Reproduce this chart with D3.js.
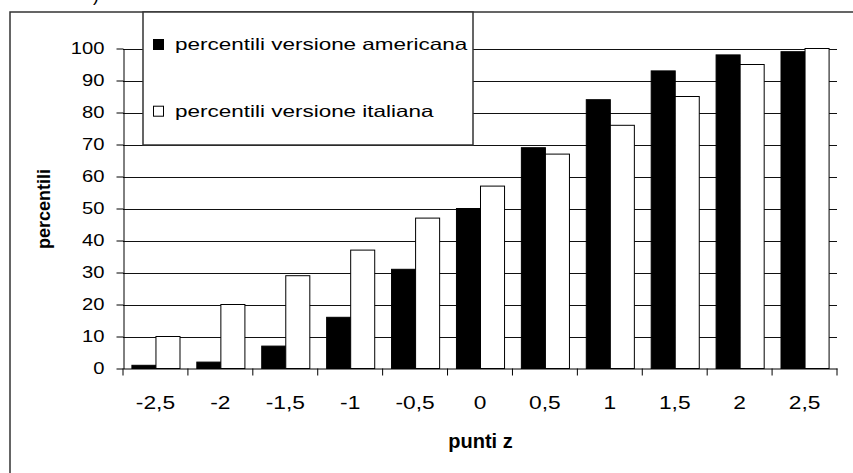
<!DOCTYPE html>
<html>
<head>
<meta charset="utf-8">
<script src="https://cdn.jsdelivr.net/npm/d3@7"></script>
<style>
  html, body { margin: 0; padding: 0; background: #fff; }
  svg { display: block; }
  text { font-family: "Liberation Sans", Arial, sans-serif; fill: #000; }
</style>
</head>
<body>
<svg id="chart" width="853" height="473"></svg>
<script>
// ---- data ----
const categories = ["-2,5", "-2", "-1,5", "-1", "-0,5", "0", "0,5", "1", "1,5", "2", "2,5"];
const americana = [1, 2, 7, 16, 31, 50, 69, 84, 93, 98, 99];
const italiana = [10, 20, 29, 37, 47, 57, 67, 76, 85, 95, 100];
const seriesNames = ["percentili versione americana", "percentili versione italiana"];
const yTicks = [0, 10, 20, 30, 40, 50, 60, 70, 80, 90, 100];
const yTitle = "percentili";
const xTitle = "punti z";

const svg = d3.select("#chart");

// horizontal text stretch helper (reference glyphs are rendered wide)
function stretch(sel, sx) {
  sel.each(function () {
    const t = d3.select(this);
    const x = +t.attr("x") || 0;
    t.attr("x", x / sx).attr("transform", `scale(${sx},1)`);
  });
}

// outer frame (extends beyond the picture on right and bottom)
svg.append("rect")
  .attr("x", 10).attr("y", 12).attr("width", 900).attr("height", 500)
  .attr("fill", "none").attr("stroke", "#333").attr("stroke-width", 1.5);

// cut-off fragment at top
svg.append("text").attr("x", 93).attr("y", 1).attr("font-size", 18).attr("fill", "#333").text(")");

const left = 123, right = 837;
const x0 = d3.scaleBand().domain(categories).range([left, right]).paddingInner(0).paddingOuter(0);
const x1 = d3.scaleBand().domain(["am", "it"]).range([0, x0.bandwidth()]).paddingInner(0).paddingOuter(0.35);
const y = d3.scaleLinear().domain([0, 100]).range([368.5, 48.5]);

// gridlines
svg.append("g").selectAll("line").data(yTicks.filter(d => d > 0)).join("line")
  .attr("x1", left).attr("x2", right)
  .attr("y1", d => Math.round(y(d)) + 0.5).attr("y2", d => Math.round(y(d)) + 0.5)
  .attr("stroke", "#111").attr("stroke-width", 1);

// bars
const rows = categories.map((c, i) => ({ c, am: americana[i], it: italiana[i] }));
const gBars = svg.append("g");
const groups = gBars.selectAll("g").data(rows).join("g")
  .attr("transform", d => `translate(${x0(d.c)},0)`);
groups.append("rect")
  .attr("x", x1("am") + 0.5).attr("width", x1.bandwidth())
  .attr("y", d => y(d.am)).attr("height", d => y(0) - y(d.am))
  .attr("fill", "#000").attr("stroke", "#000").attr("stroke-width", 1);
groups.append("rect")
  .attr("x", x1("it") + 0.5).attr("width", x1.bandwidth())
  .attr("y", d => y(d.it)).attr("height", d => y(0) - y(d.it))
  .attr("fill", "#fff").attr("stroke", "#000").attr("stroke-width", 1);

// y axis
const gy = svg.append("g").attr("transform", `translate(${left + 0.5},0)`)
  .call(d3.axisLeft(y).tickValues(yTicks).tickSize(7).tickSizeOuter(0).tickPadding(12));
gy.selectAll("text").attr("font-size", 16.3).attr("font-family", "Liberation Sans, Arial, sans-serif").attr("fill", "#000");
stretch(gy.selectAll("text"), 1.24);
gy.selectAll("line, path").attr("stroke", "#000");

// x axis
const gx = svg.append("g").attr("transform", `translate(0,${y(0)})`)
  .call(d3.axisBottom(x0).tickSizeInner(7).tickSizeOuter(0).tickPadding(20));
gx.selectAll(".tick line").attr("x1", -x0.bandwidth() / 2).attr("x2", -x0.bandwidth() / 2);
gx.append("line").attr("x1", right).attr("x2", right).attr("y1", 0).attr("y2", 7).attr("stroke", "#000");
gx.selectAll("text").attr("font-size", 18.5).attr("font-family", "Liberation Sans, Arial, sans-serif").attr("fill", "#000");
stretch(gx.selectAll("text"), 1.23);
gx.selectAll("line, path").attr("stroke", "#000");

// axis titles
svg.append("text")
  .attr("transform", `translate(50,209) rotate(-90)`)
  .attr("text-anchor", "middle").attr("font-weight", "bold").attr("font-size", 18)
  .text(yTitle);
svg.append("text")
  .attr("x", 480.5).attr("y", 447.5)
  .attr("text-anchor", "middle").attr("font-weight", "bold").attr("font-size", 20)
  .text(xTitle);

// legend
const lg = svg.append("g");
lg.append("rect").attr("x", 143).attr("y", 12).attr("width", 330).attr("height", 133)
  .attr("fill", "#fff").attr("stroke", "#333").attr("stroke-width", 1.5);
const legendFills = ["#000", "#fff"];
const legendY = [50, 116.7];
seriesNames.forEach((name, i) => {
  lg.append("rect").attr("x", 153.5).attr("y", legendY[i] - 10.5).attr("width", 10).attr("height", 10)
    .attr("fill", legendFills[i]).attr("stroke", "#000").attr("stroke-width", 1);
  const t = lg.append("text").attr("x", 175).attr("y", legendY[i]).attr("font-size", 16.3).text(name);
  stretch(t, 1.38);
});
</script>
</body>
</html>
